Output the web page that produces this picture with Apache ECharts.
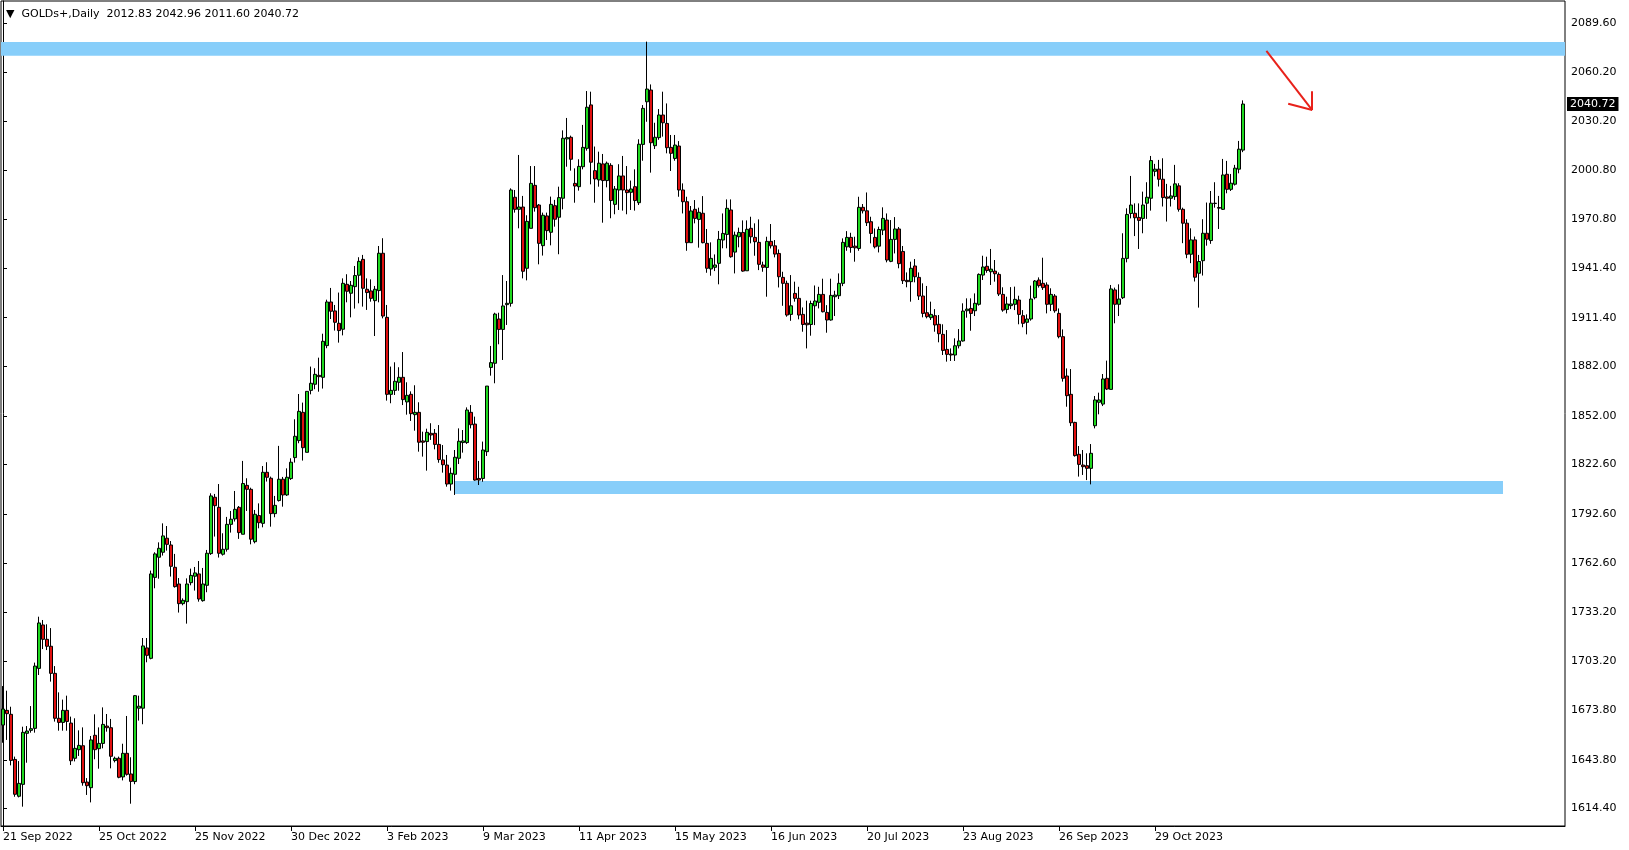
<!DOCTYPE html>
<html><head><meta charset="utf-8">
<script src="https://cdn.jsdelivr.net/npm/echarts@6/dist/echarts.min.js"></script>
<style>html,body{margin:0;padding:0;background:#fff}#c{width:1629px;height:850px}</style>
</head><body><div id="c"></div>
<script>
const opens = [1664.8,1673.7,1671.3,1644.0,1621.7,1628.9,1659.8,1661.6,1662.8,1699.1,1725.4,1716.7,1712.5,1696.1,1668.9,1666.4,1673.7,1666.0,1644.7,1649.9,
1652.3,1630.3,1626.9,1658.6,1650.5,1653.7,1664.2,1663.2,1643.3,1644.7,1633.4,1647.7,1635.2,1630.6,1675.0,1675.0,1711.5,1705.2,1754.2,1766.4,
1769.4,1777.9,1773.8,1760.3,1750.2,1738.3,1739.5,1751.0,1754.9,1756.3,1740.1,1749.4,1768.6,1802.7,1796.6,1768.2,1771.2,1786.3,1789.6,1796.6,
1780.3,1809.9,1807.5,1775.8,1791.6,1786.9,1817.8,1814.2,1792.8,1800.7,1813.6,1804.1,1814.0,1826.7,1837.0,1854.1,1829.9,1867.4,1871.1,1876.5,
1875.3,1894.5,1920.9,1915.5,1908.0,1904.4,1931.6,1926.2,1930.2,1937.1,1946.7,1928.6,1927.6,1921.7,1927.8,1950.4,1911.6,1865.0,1867.4,1872.3,
1875.3,1860.4,1865.0,1852.7,1854.1,1836.8,1836.4,1841.4,1841.4,1834.7,1825.3,1822.2,1810.7,1816.6,1826.3,1835.8,1835.8,1854.1,1847.0,1814.1,
1814.1,1830.3,1881.3,1883.8,1910.6,1904.3,1919.3,1920.1,1984.3,1977.0,1978.4,1941.3,1965.5,1991.5,1979.6,1955.0,1973.0,1963.1,1979.2,1972.2,
1983.7,2019.6,2020.6,1992.7,1990.7,2002.8,2013.9,2040.2,2000.4,1994.8,2004.5,1994.4,2003.6,1980.0,1988.7,1997.2,1988.7,1987.3,1990.7,1981.0,
2016.3,2042.1,2049.2,2015.5,2020.4,2034.1,2029.0,2014.5,2007.8,2015.3,1988.7,1981.6,1956.8,1977.0,1970.9,1974.6,1956.4,1940.9,1941.9,1944.3,
1958.4,1961.8,1976.6,1951.1,1960.4,1963.0,1939.8,1965.5,1960.0,1957.0,1943.3,1941.8,1957.6,1954.9,1950.3,1935.8,1932.2,1913.4,1926.1,1923.1,
1913.4,1908.1,1907.3,1918.6,1920.7,1925.5,1914.6,1910.0,1924.1,1924.7,1932.2,1954.3,1960.0,1954.7,1953.3,1978.2,1976.1,1969.5,1960.0,1954.7,
1964.4,1970.5,1945.5,1958.8,1965.1,1951.5,1934.0,1933.2,1942.7,1935.8,1924.5,1914.4,1911.4,1912.6,1907.4,1901.3,1892.2,1889.4,1888.8,1894.4,
1897.3,1915.6,1917.0,1915.6,1919.5,1937.2,1942.5,1939.2,1939.6,1937.6,1925.5,1916.4,1918.7,1919.5,1922.1,1912.6,1908.6,1910.6,1923.5,1934.2,
1932.2,1931.2,1919.5,1924.5,1914.0,1899.9,1876.1,1865.0,1848.0,1828.7,1822.2,1821.8,1820.2,1846.0,1860.2,1859.1,1874.7,1868.0,1928.2,1919.5,
1923.5,1947.3,1974.5,1974.6,1972.1,1971.5,1980.7,1983.7,2000.0,2001.3,1995.2,1984.5,1983.7,1984.7,1991.2,1977.0,1968.6,1949.8,1958.5,1938.3,
1945.9,1962.5,1958.1,1980.7,1978.1,1977.0,1998.2,1989.1,1992.2,2001.3,2012.83];
const highs = [1688.4,1685.6,1675.9,1645.7,1643.0,1663.8,1664.2,1676.3,1702.6,1730.4,1728.4,1725.8,1723.5,1700.5,1684.6,1680.2,1682.6,1669.9,1668.9,1661.6,
1663.4,1632.7,1658.2,1671.3,1663.4,1675.5,1671.5,1668.5,1645.7,1645.7,1653.5,1670.3,1645.3,1683.0,1682.6,1717.5,1717.5,1758.3,1769.4,1775.4,
1786.9,1785.3,1776.2,1768.4,1753.8,1741.5,1753.6,1759.5,1760.5,1764.1,1759.9,1770.8,1805.1,1804.7,1810.7,1780.9,1790.8,1794.4,1806.5,1797.4,
1824.7,1814.2,1808.5,1795.0,1799.0,1821.6,1823.9,1815.2,1803.5,1833.8,1815.0,1820.2,1826.3,1849.9,1865.2,1860.0,1866.8,1881.8,1880.8,1887.2,
1901.7,1922.3,1929.4,1919.1,1926.6,1935.2,1937.7,1933.6,1942.7,1948.0,1949.4,1935.2,1934.6,1930.6,1954.8,1959.5,1919.1,1881.8,1884.4,1881.4,
1890.6,1872.3,1866.8,1870.5,1860.2,1842.4,1844.2,1847.5,1844.0,1846.4,1834.3,1828.3,1820.6,1831.3,1844.4,1843.4,1857.1,1858.5,1851.5,1824.7,
1836.4,1870.0,1894.3,1914.4,1914.4,1937.2,1933.6,1989.7,1988.7,2009.9,1985.1,1973.4,2003.2,2003.2,1980.2,1975.0,1975.0,1984.7,1982.7,1990.7,
2024.8,2032.3,2021.6,2001.8,2007.3,2028.1,2048.6,2048.2,2015.0,2011.9,2010.5,2005.9,2004.9,1991.1,2004.3,2009.3,2003.2,1994.4,2001.2,2019.4,
2040.1,2078.5,2052.6,2029.4,2037.7,2048.2,2041.1,2022.0,2022.0,2018.3,1992.7,1984.6,1979.0,1982.6,1978.0,1985.0,1965.1,1957.0,1949.7,1963.9,
1974.5,1983.0,1983.0,1963.5,1965.9,1970.3,1970.3,1972.5,1968.5,1970.9,1945.3,1960.4,1968.1,1958.4,1952.7,1939.2,1933.8,1937.2,1933.2,1930.1,
1917.6,1921.7,1921.7,1930.9,1930.1,1935.0,1919.0,1935.0,1927.7,1938.2,1959.4,1963.8,1962.8,1960.4,1984.6,1980.2,1987.2,1972.5,1965.4,1966.5,
1978.2,1974.5,1970.5,1972.3,1966.3,1954.8,1938.8,1945.3,1946.9,1938.8,1932.2,1930.6,1921.1,1916.6,1913.0,1907.4,1903.9,1892.8,1898.9,1904.5,
1920.1,1923.1,1923.1,1926.1,1938.2,1948.9,1948.3,1953.0,1946.3,1938.8,1929.8,1924.1,1929.9,1930.2,1924.7,1916.0,1913.4,1930.8,1934.2,1935.8,
1947.7,1932.8,1929.2,1925.7,1917.0,1904.3,1880.7,1880.3,1848.4,1833.7,1831.3,1829.3,1834.9,1864.0,1866.0,1877.3,1885.4,1931.2,1929.6,1931.6,
1962.5,1977.6,1997.2,1980.6,1980.6,1987.7,1993.4,2009.3,2004.5,2006.9,2007.9,1992.4,1991.2,2003.9,1992.8,1978.0,1971.0,1965.5,1960.5,1949.4,
1971.0,1981.1,1988.1,1993.4,1985.1,2007.5,2006.3,1998.4,2003.9,2018.4,2042.96];
const lows = [1654.1,1655.8,1640.4,1621.4,1621.0,1615.4,1642.0,1660.2,1660.2,1695.1,1710.8,1710.2,1691.1,1666.9,1661.4,1661.4,1661.4,1640.6,1642.8,1646.1,
1628.1,1622.5,1618.0,1644.1,1638.4,1650.7,1660.8,1638.6,1642.2,1632.6,1631.3,1634.2,1617.2,1629.0,1667.5,1665.3,1702.8,1704.6,1747.6,1753.4,
1767.4,1770.4,1754.7,1748.0,1732.9,1737.3,1726.2,1749.4,1746.2,1739.5,1739.5,1745.2,1767.8,1778.9,1766.2,1767.4,1769.8,1781.3,1788.0,1777.5,
1780.3,1794.4,1774.2,1774.8,1783.9,1784.5,1812.2,1784.9,1790.6,1800.1,1797.0,1803.5,1813.2,1823.7,1835.4,1824.9,1829.9,1865.0,1868.1,1866.6,
1868.5,1892.9,1910.6,1903.6,1896.3,1900.7,1920.7,1911.6,1916.9,1920.1,1918.1,1916.1,1921.1,1900.3,1920.7,1911.0,1861.2,1859.6,1864.6,1867.2,
1858.5,1852.7,1848.9,1843.0,1830.3,1827.3,1818.8,1837.4,1831.7,1823.6,1817.6,1809.1,1806.7,1804.1,1822.8,1829.7,1835.0,1844.4,1812.7,1810.1,
1812.1,1827.7,1876.3,1871.7,1895.3,1885.8,1907.0,1918.1,1975.0,1965.5,1935.2,1934.0,1965.5,1975.6,1943.7,1949.0,1958.4,1955.2,1966.5,1949.8,
1977.0,2002.8,2000.4,1981.0,1988.3,2001.2,2012.5,1992.1,1981.0,1990.7,1968.9,1990.3,1971.6,1974.0,1976.6,1976.2,1974.0,1976.6,1976.2,1979.6,
2006.4,2030.0,1999.2,2013.5,2019.1,2021.0,2010.9,2000.2,2006.4,1984.6,1974.5,1951.9,1956.8,1968.5,1953.8,1956.4,1938.6,1936.8,1939.6,1931.6,
1953.4,1953.4,1947.7,1938.2,1954.0,1939.2,1939.8,1956.4,1948.9,1940.2,1939.2,1924.1,1953.3,1947.9,1929.7,1918.6,1912.0,1909.5,1921.1,1910.4,
1902.9,1892.8,1900.5,1906.9,1917.0,1914.6,1902.3,1909.6,1912.4,1922.7,1930.5,1951.9,1950.7,1945.3,1951.9,1974.5,1966.9,1956.4,1953.3,1950.9,
1961.4,1944.9,1945.0,1950.3,1941.3,1931.8,1929.8,1921.1,1932.8,1922.1,1911.6,1911.0,1910.0,1902.9,1896.5,1888.8,1884.8,1885.2,1885.2,1892.8,
1896.9,1911.4,1903.5,1912.4,1918.7,1934.2,1938.6,1931.2,1933.2,1924.5,1915.0,1914.0,1916.6,1916.0,1907.4,1905.6,1901.3,1909.6,1922.5,1929.6,
1928.2,1914.0,1915.4,1914.4,1898.9,1872.7,1857.5,1845.8,1827.3,1815.2,1816.2,1813.1,1810.5,1844.4,1852.9,1857.9,1867.6,1868.0,1908.0,1912.4,
1922.7,1944.9,1971.5,1960.8,1953.0,1962.5,1971.2,1976.2,1997.0,1990.8,1978.7,1969.6,1978.7,1982.7,1975.6,1956.5,1947.4,1944.4,1933.3,1917.5,
1936.9,1955.0,1956.1,1978.0,1965.1,1976.6,1986.7,1988.1,1991.4,1998.8,2011.60];
const closes = [1674.5,1671.7,1643.4,1622.9,1629.5,1660.4,1661.2,1662.6,1700.5,1726.6,1716.7,1712.5,1696.1,1668.9,1666.4,1673.7,1667.0,1643.2,1650.7,1652.5,
1629.9,1628.1,1655.8,1649.9,1653.7,1665.2,1663.2,1645.9,1644.7,1633.2,1647.7,1635.0,1630.7,1682.6,1676.2,1712.7,1707.0,1756.3,1768.4,1771.8,
1779.3,1774.2,1760.9,1748.6,1738.3,1740.3,1750.2,1755.4,1756.9,1741.1,1750.2,1768.8,1803.5,1797.6,1768.8,1771.2,1786.3,1789.4,1795.4,1781.3,
1811.0,1807.5,1777.3,1792.4,1787.3,1817.8,1814.8,1792.8,1797.8,1813.6,1804.1,1814.8,1823.9,1839.6,1854.7,1832.7,1866.8,1871.7,1877.1,1875.7,
1897.1,1920.9,1915.3,1908.6,1903.6,1932.2,1927.4,1931.0,1936.9,1945.5,1929.2,1926.6,1923.1,1928.6,1950.4,1912.4,1865.0,1867.4,1872.9,1875.3,
1861.8,1864.4,1853.3,1854.1,1836.0,1836.0,1842.0,1840.4,1834.7,1825.5,1822.4,1810.7,1817.2,1826.9,1836.6,1836.8,1855.5,1846.6,1813.1,1813.1,
1831.3,1870.0,1884.2,1913.6,1904.3,1918.5,1920.1,1988.7,1977.0,1978.4,1939.5,1969.7,1992.7,1978.0,1956.4,1973.4,1964.1,1980.0,1971.0,1984.1,
2020.0,2020.4,2007.3,1991.1,2003.0,2014.5,2038.8,2005.5,1995.4,2004.9,1994.4,2004.9,1982.3,1989.3,1997.2,1988.7,1987.1,1989.3,1982.3,2016.4,
2038.1,2049.8,2017.3,2020.6,2034.1,2029.4,2014.3,2010.9,2015.9,1988.7,1981.6,1956.8,1976.0,1971.5,1975.2,1956.8,1941.3,1947.3,1943.3,1958.8,
1962.4,1977.6,1948.3,1961.4,1963.0,1939.6,1964.9,1960.4,1957.4,1943.7,1941.9,1957.6,1954.9,1949.9,1936.2,1932.2,1913.0,1918.6,1923.1,1913.0,
1907.3,1907.1,1920.0,1921.5,1925.5,1915.0,1910.0,1924.9,1925.1,1932.2,1957.0,1960.0,1953.9,1953.7,1978.2,1976.1,1968.9,1962.4,1954.3,1964.8,
1971.5,1946.3,1958.8,1965.1,1944.1,1933.8,1933.2,1941.3,1936.2,1924.5,1914.0,1912.0,1913.4,1907.0,1901.7,1891.6,1889.2,1888.8,1894.4,1897.3,
1915.4,1916.6,1914.0,1920.1,1937.6,1942.1,1940.0,1940.8,1938.0,1925.7,1916.0,1919.7,1919.7,1922.5,1913.4,1908.0,1910.6,1922.7,1933.6,1930.8,
1929.6,1919.5,1925.5,1915.6,1899.9,1874.7,1864.2,1847.8,1827.9,1822.6,1821.2,1820.2,1829.3,1861.6,1861.6,1874.3,1868.2,1928.8,1919.5,1922.7,
1947.3,1973.9,1979.6,1971.9,1970.3,1979.6,1984.3,2006.5,2001.3,1995.2,1984.1,1983.7,1985.1,1992.4,1977.0,1968.6,1949.8,1958.5,1935.9,1945.4,
1962.5,1958.9,1980.7,1980.5,1977.7,1997.8,1989.1,1992.8,2001.9,2013.4,2040.72];

const dateLabels = ['21 Sep 2022','25 Oct 2022','25 Nov 2022','30 Dec 2022','3 Feb 2023','9 Mar 2023','11 Apr 2023','15 May 2023','16 Jun 2023','20 Jul 2023','23 Aug 2023','26 Sep 2023','29 Oct 2023'];
const barsPerLabel = 24;
const totalSlots = 391;
const priceTicks = [1614.40,1643.80,1673.80,1703.20,1733.20,1762.60,1792.60,1822.60,1852.00,1882.00,1911.40,1941.40,1970.80,2000.80,2030.20,2060.20,2089.60];
const priceMin = 1603.7, priceMax = 2103.1;
const chartTitle = 'GOLDs+,Daily  2012.83 2042.96 2011.60 2040.72';
const lastPrice = 2040.72;
const resistanceZone = [2070.0, 2078.3];
const supportZone = [1804.7, 1812.5];
const supportZoneBars = [113, 375];
const arrowFrom = [315.85, 2072.9];
const arrowTo = [327.3, 2037.1];
const arrowHeadA = [327.3, 2048.4];
const arrowHeadB = [321.3, 2040.9];

const slots = [];
for (let i = 0; i < totalSlots; i++) slots.push(String(i));
const candleData = opens.map((o, i) => [o, closes[i], lows[i], highs[i]]);
const isLabelSlot = (i) => i % barsPerLabel === 0 && i / barsPerLabel < dateLabels.length;
const FONT = 'DejaVu Sans';

const chart = echarts.init(document.getElementById('c'), null, {renderer: 'canvas'});
chart.setOption({
  animation: false,
  backgroundColor: '#ffffff',
  title: {
    text: '\u25BC  ' + chartTitle, left: 1, top: 4,
    textStyle: {fontFamily: FONT, fontSize: 11, fontWeight: 'normal', color: '#000'}
  },
  grid: {left: 1, top: 1, width: 1564, height: 825, show: true, borderColor: '#000', borderWidth: 1, backgroundColor: '#fff'},
  xAxis: [{
    type: 'category', data: slots, boundaryGap: true,
    axisLine: {show: true, lineStyle: {color: '#000', width: 1}},
    axisTick: {show: true, alignWithLabel: true, length: 5, interval: (i) => isLabelSlot(i), lineStyle: {color: '#000'}},
    axisLabel: {
      interval: (i) => isLabelSlot(i), align: 'left', margin: 6,
      formatter: (v, i) => isLabelSlot(i) ? dateLabels[i / barsPerLabel] : '',
      fontFamily: FONT, fontSize: 11, color: '#000'
    },
    splitLine: {show: false}
  }, {
    type: 'value', min: -0.5, max: totalSlots - 0.5, show: false
  }],
  yAxis: [{
    type: 'value', position: 'right', min: priceMin, max: priceMax,
    axisLine: {show: true, lineStyle: {color: '#000'}},
    axisTick: {show: true, length: 4, customValues: priceTicks, lineStyle: {color: '#000'}},
    axisLabel: {
      customValues: priceTicks, formatter: (v) => Number(v).toFixed(2),
      margin: 6, fontFamily: FONT, fontSize: 11, color: '#000', padding: [3, 0, 0, 0]
    },
    splitLine: {show: false}
  }],
  series: [{
    type: 'line', xAxisIndex: 1, yAxisIndex: 0, data: [], showSymbol: false, silent: true, z: 1,
    markArea: {
      silent: true,
      itemStyle: {color: '#87CEFA', opacity: 1},
      data: [
        [{yAxis: resistanceZone[1]}, {yAxis: resistanceZone[0]}],
        [{xAxis: supportZoneBars[0], yAxis: supportZone[1]}, {xAxis: supportZoneBars[1], yAxis: supportZone[0]}]
      ]
    },
    markLine: {
      silent: true, symbol: ['none', 'none'], animation: false,
      label: {show: false},
      lineStyle: {color: '#E8211A', width: 2, type: 'solid'},
      data: [
        [{coord: arrowFrom}, {coord: arrowTo}],
        [{coord: arrowTo}, {coord: arrowHeadA}],
        [{coord: arrowTo}, {coord: arrowHeadB}],
        {yAxis: lastPrice, lineStyle: {color: 'rgba(0,0,0,0)', width: 0},
          label: {show: true, position: 'end', distance: 2, formatter: lastPrice.toFixed(2),
                  backgroundColor: '#000', color: '#fff', padding: [2, 3, 1, 3],
                  fontFamily: FONT, fontSize: 11}}
      ]
    }
  }, {
    type: 'candlestick', xAxisIndex: 0, yAxisIndex: 0, z: 2, barWidth: 3,
    data: candleData,
    itemStyle: {color: '#1FD81F', color0: '#E01010', borderColor: '#000', borderColor0: '#000', borderWidth: 1}
  }]
});
</script>
</body></html>
